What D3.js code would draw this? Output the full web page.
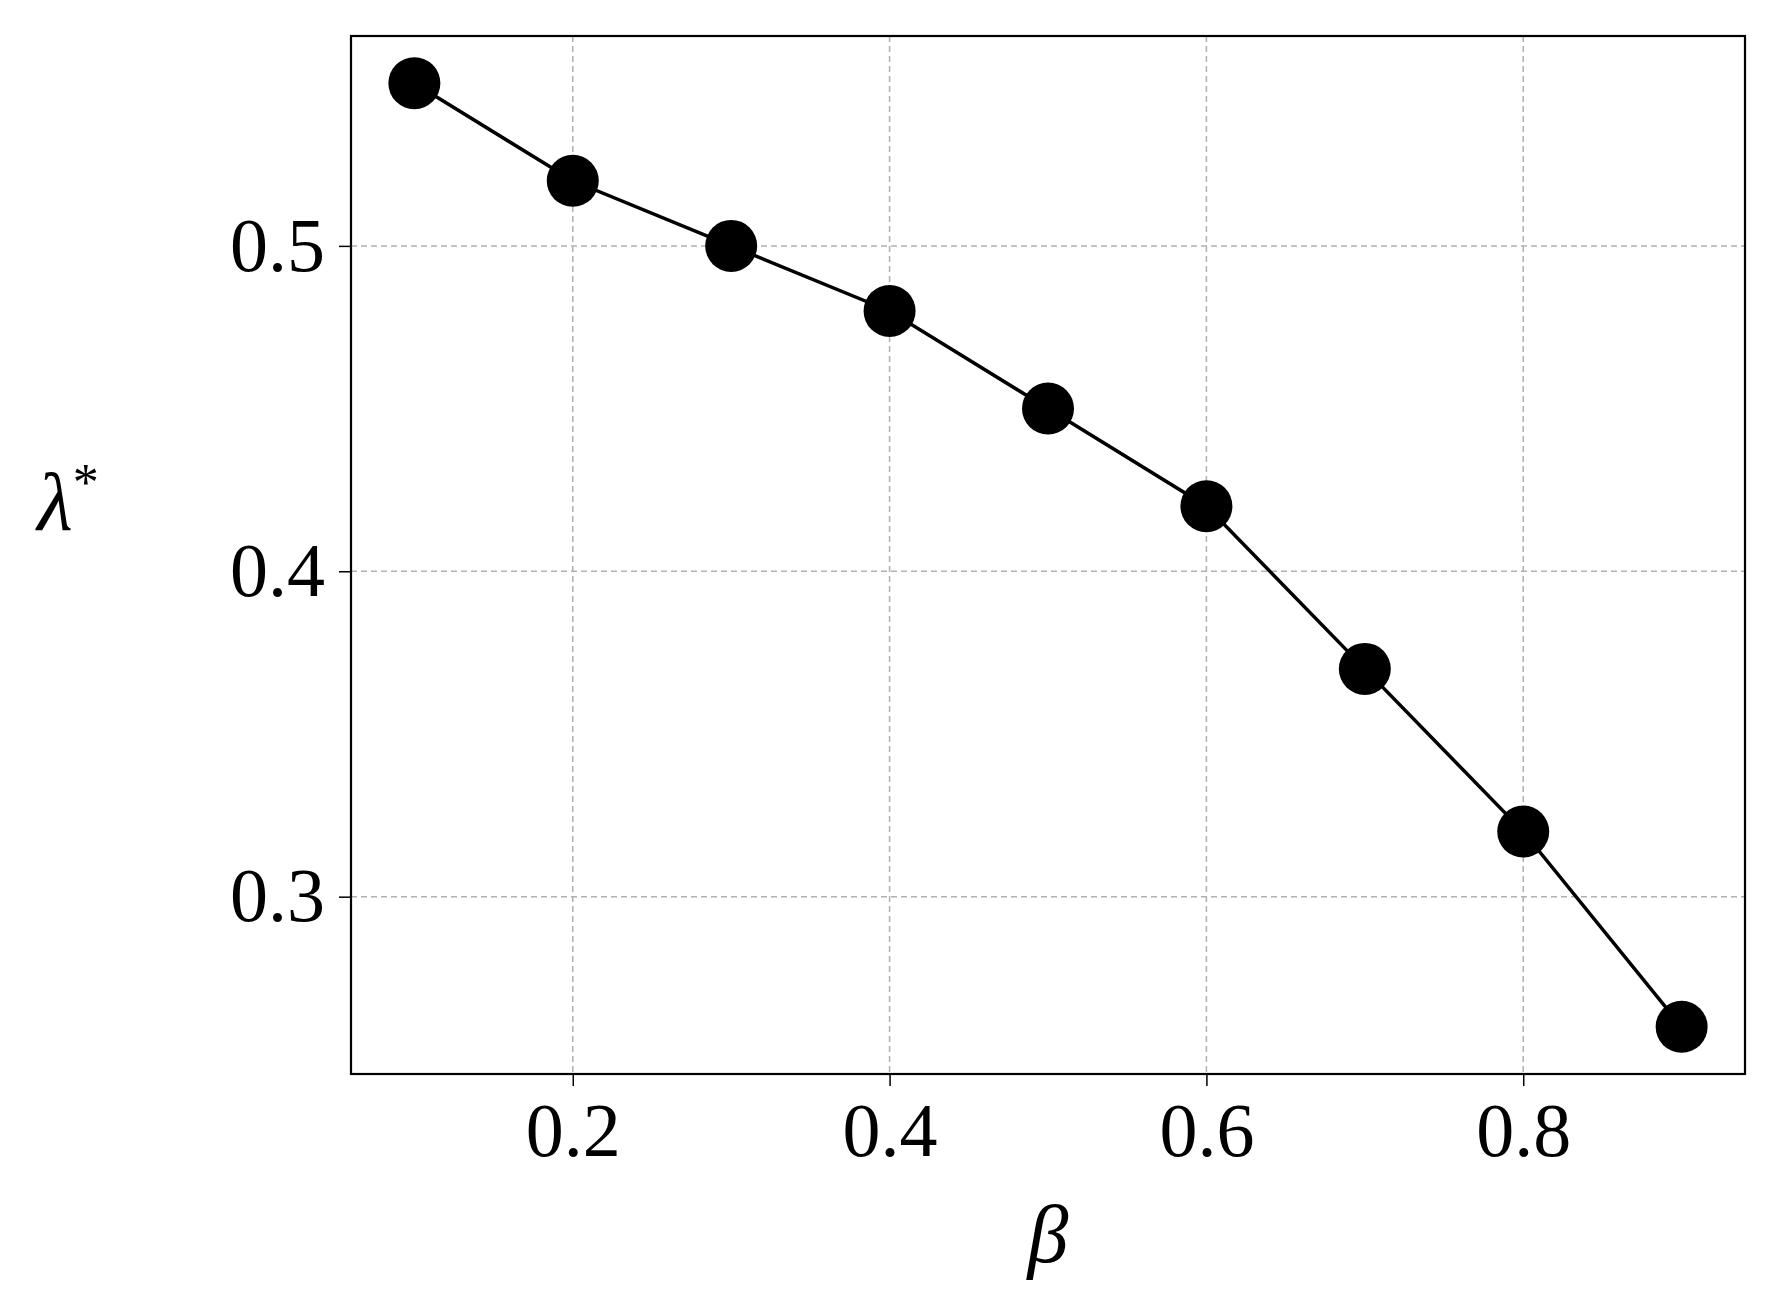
<!DOCTYPE html>
<html><head><meta charset="utf-8">
<script src="https://cdn.jsdelivr.net/npm/d3@7"></script>
<style>body{margin:0;background:#fff}</style>
</head><body><div id="main"></div>
<script>
var WIDTH = 1767, HEIGHT = 1294
var betas = [0.1, 0.2, 0.3, 0.4, 0.5, 0.6, 0.7, 0.8, 0.9]
var lambdas = [0.55, 0.52, 0.50, 0.48, 0.45, 0.42, 0.37, 0.32, 0.26]
var xTicks = [0.2, 0.4, 0.6, 0.8]
var yTicks = [0.3, 0.4, 0.5]

var m = {left: 351, right: 1745, top: 36, bottom: 1074}
var x = d3.scaleLinear().domain([0.06, 0.94]).range([m.left, m.right])
var y = d3.scaleLinear().domain([0.2455, 0.5645]).range([m.bottom, m.top])

const svg = d3.select('#main').append('svg').attr('width', WIDTH).attr('height', HEIGHT)
var font = '"Liberation Serif", "DejaVu Serif", serif'

// grid
svg.selectAll('line.gx').data(xTicks).enter().append('line')
    .attr('x1', d => x(d)).attr('x2', d => x(d)).attr('y1', m.top).attr('y2', m.bottom)
    .attr('stroke', '#b0b0b0').attr('stroke-width', 1.5).attr('stroke-dasharray', '6,4')
svg.selectAll('line.gy').data(yTicks).enter().append('line')
    .attr('y1', d => y(d)).attr('y2', d => y(d)).attr('x1', m.left).attr('x2', m.right)
    .attr('stroke', '#b0b0b0').attr('stroke-width', 1.5).attr('stroke-dasharray', '6,4')

var xa = svg.append('g').attr('transform', 'translate(0,' + m.bottom + ')')
    .call(d3.axisBottom(x).tickValues(xTicks).tickFormat(d3.format('.1f')).tickSize(12).tickPadding(16))
var ya = svg.append('g').attr('transform', 'translate(' + m.left + ',0)')
    .call(d3.axisLeft(y).tickValues(yTicks).tickFormat(d3.format('.1f')).tickSize(12).tickPadding(14))
;[xa, ya].forEach(a => {
    a.select('.domain').remove()
    a.selectAll('line').attr('stroke', '#000').attr('stroke-width', 1.5)
    a.selectAll('text').attr('font-family', font).attr('font-size', 76).attr('fill', '#000')
})

svg.append('rect').attr('x', m.left).attr('y', m.top)
    .attr('width', m.right - m.left).attr('height', m.bottom - m.top)
    .attr('fill', 'none').attr('stroke', '#000').attr('stroke-width', 2.2)

var pts = betas.map((b, i) => [b, lambdas[i]])
svg.append('path').datum(pts)
    .attr('d', d3.line().x(d => x(d[0])).y(d => y(d[1])))
    .attr('fill', 'none').attr('stroke', '#000').attr('stroke-width', 3.5)
svg.selectAll('circle').data(pts).enter().append('circle')
    .attr('cx', d => x(d[0])).attr('cy', d => y(d[1])).attr('r', 26).attr('fill', '#000')

svg.append('text').attr('x', 1048).attr('y', 1262).attr('text-anchor', 'middle')
    .attr('font-family', font).attr('font-style', 'italic').attr('font-size', 82).text('β')
svg.append('text').attr('x', 68).attr('y', 530).attr('text-anchor', 'middle')
    .attr('font-family', font).attr('font-size', 82)
    .html('<tspan font-style="italic">λ</tspan><tspan font-size="52" dy="-30">*</tspan>')
</script></body></html>
